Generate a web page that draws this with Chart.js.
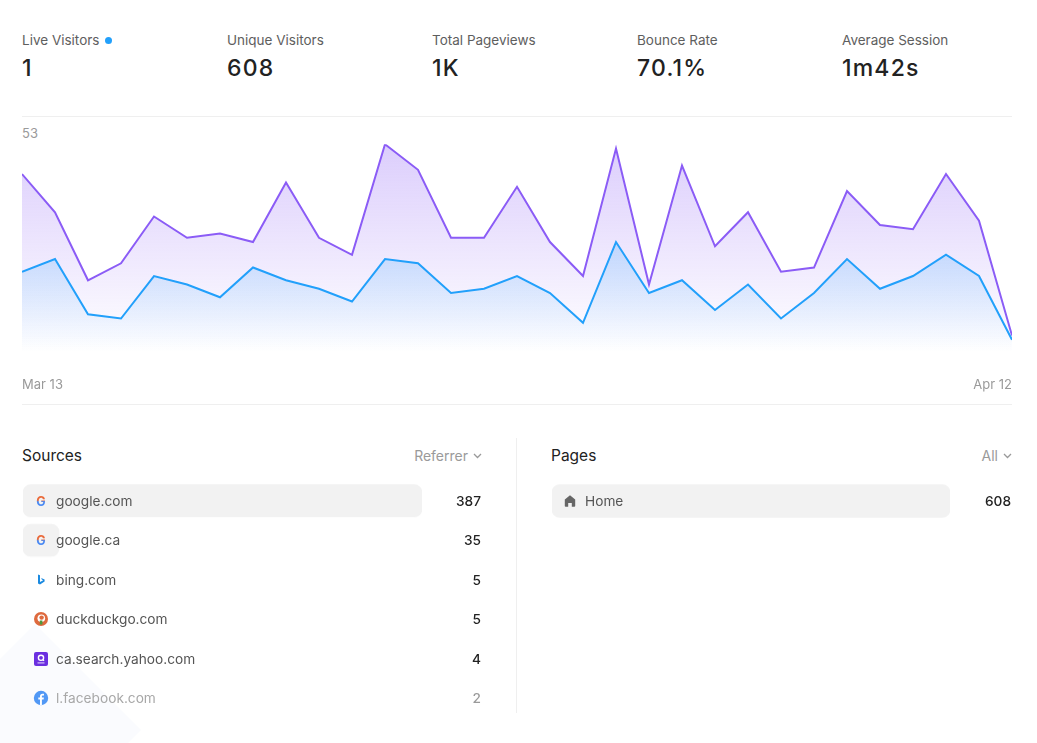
<!DOCTYPE html>
<html>
<head>
<meta charset="utf-8">
<title>Analytics</title>
<script src="https://cdn.jsdelivr.net/npm/chart.js@4.4.1/dist/chart.umd.min.js"></script>
<style>
  html, body { margin: 0; padding: 0; background: #fff; }
  body { width: 1037px; height: 743px; position: relative; overflow: hidden; font-family: Inter, 'Noto Sans', sans-serif; color: #222; }
  .abs { position: absolute; }
  .stat { position: absolute; top: 32px; width: 205px; }
  .stat .label { font-size: 13.5px; line-height: 17px; color: #5e5e5e; display: flex; align-items: center; }
  .stat .value { font-size: 23px; line-height: 28px; font-weight: 500; color: #222; margin-top: 5px; letter-spacing: 1.2px; }
  .live-dot { width: 7px; height: 7px; border-radius: 50%; background: #22a0fb; margin-left: 6px; }
  .hline { position: absolute; left: 22px; width: 990px; height: 1px; background: #efefef; }
  .vline { position: absolute; left: 516px; top: 438px; width: 1px; height: 275px; background: #efefef; }
  .maxlabel { left: 22px; top: 125px; font-size: 13px; line-height: 16px; color: #9a9a9a; }
  .panel-title { font-size: 15.5px; line-height: 20px; color: #222; top: 446px; }
  .panel-filter { font-size: 14px; line-height: 18px; color: #9a9a9a; top: 447px; display: flex; align-items: center; }
  .panel-filter svg { margin-left: 5px; }
  .rows { position: absolute; top: 481.3px; pointer-events: none; }
  .row { height: 39.4px; display: flex; align-items: center; font-size: 13.7px; }
  .row .icon { width: 16px; height: 16px; margin-left: 10px; margin-right: 7px; display: flex; }
  .row .name { color: #555; flex: 1; }
  .row .num { color: #222; font-weight: 500; text-align: right; }
  .row.faded .name { color: #a8a8a8; }
  .row.faded .num { color: #9a9a9a; }
  .row.faded .icon { opacity: 0.75; }
  .deco { left: -40px; top: 655px; width: 150px; height: 150px; transform: rotate(45deg); background: #fafbfe; }
</style>
</head>
<body>
<div class="abs deco"></div>

<div id="stats"></div>
<div class="hline" style="top:116px"></div>

<div class="abs maxlabel" id="maxLabel"></div>
<canvas id="trafficChart" class="abs" style="left:22px;top:124px;width:990px;height:270px"></canvas>

<div class="hline" style="top:404px"></div>
<div class="vline"></div>

<div class="abs panel-title" style="left:22px">Sources</div>
<div class="abs panel-filter" style="right:555px">Referrer <svg width="9" height="6" viewBox="0 0 9 6"><polyline points="1,1 4.5,4.5 8,1" fill="none" stroke="#9a9a9a" stroke-width="1.3"/></svg></div>
<div class="abs panel-title" style="left:551px">Pages</div>
<div class="abs panel-filter" style="right:25px">All <svg width="9" height="6" viewBox="0 0 9 6"><polyline points="1,1 4.5,4.5 8,1" fill="none" stroke="#9a9a9a" stroke-width="1.3"/></svg></div>

<canvas id="sourcesChart" class="abs" style="left:23px;top:481.3px;width:399px;height:236.4px"></canvas>
<div class="rows" id="sourceRows" style="left:23px;width:458px"></div>

<canvas id="pagesChart" class="abs" style="left:552px;top:481.3px;width:398px;height:39.4px"></canvas>
<div class="rows" id="pageRows" style="left:552px;width:459px"></div>

<script>
// summary numbers
const statLabels = ['Live Visitors', 'Unique Visitors', 'Total Pageviews', 'Bounce Rate', 'Average Session'];
const statValues = ['1', '608', '1K', '70.1%', '1m42s'];

// daily traffic, Mar 13 - Apr 12
const days = [
  'Mar 13', 'Mar 14', 'Mar 15', 'Mar 16', 'Mar 17', 'Mar 18', 'Mar 19', 'Mar 20',
  'Mar 21', 'Mar 22', 'Mar 23', 'Mar 24', 'Mar 25', 'Mar 26', 'Mar 27', 'Mar 28',
  'Mar 29', 'Mar 30', 'Mar 31', 'Apr 1', 'Apr 2', 'Apr 3', 'Apr 4', 'Apr 5',
  'Apr 6', 'Apr 7', 'Apr 8', 'Apr 9', 'Apr 10', 'Apr 11', 'Apr 12'
];
const visitors = [23, 26, 13, 12, 22, 20, 17, 24, 21, 19, 16, 26, 25, 18, 19, 22,
  18, 11, 30, 18, 21, 14, 20, 12, 18, 26, 19, 22, 27, 22, 7];
const pageviews = [46, 37, 21, 25, 36, 31, 32, 30, 44, 31, 27, 53, 47, 31, 31, 43,
  30, 22, 52, 20, 48, 29, 37, 23, 24, 42, 34, 33, 46, 35, 8];

// top lists
const sourceNames = ['google.com', 'google.ca', 'bing.com', 'duckduckgo.com', 'ca.search.yahoo.com', 'l.facebook.com'];
const sourceCounts = [387, 35, 5, 5, 4, 2];
const pageNames = ['Home'];
const pageCounts = [608];

const icons = {
  'google.com': '<svg width="16" height="16" viewBox="0 0 16 16"><defs><linearGradient id="gg" x1="0" y1="0" x2="0" y2="1"><stop offset="0.45" stop-color="#ea6a3a"/><stop offset="0.55" stop-color="#4a8af4"/></linearGradient></defs><text x="8" y="12.5" text-anchor="middle" font-size="12.5" font-weight="700" font-family="Inter, sans-serif" fill="url(#gg)">G</text></svg>',
  'google.ca': '<svg width="16" height="16" viewBox="0 0 16 16"><text x="8" y="12.5" text-anchor="middle" font-size="12.5" font-weight="700" font-family="Inter, sans-serif" fill="url(#gg)">G</text></svg>',
  'bing.com': '<svg width="16" height="16" viewBox="0 0 16 16"><path d="M5 2.5 L7 3.2 L7 10 L10.2 8.2 L8.8 7.6 L8.2 6 L11.6 7.4 L11.6 9.6 L7 12.6 L5 11.4 Z" fill="#1b8ae0"/></svg>',
  'duckduckgo.com': '<svg width="16" height="16" viewBox="0 0 16 16"><circle cx="8" cy="8" r="7" fill="#de6a3e"/><circle cx="8.3" cy="7.3" r="3.8" fill="#fff"/><circle cx="8.6" cy="6.6" r="2.2" fill="#de6a3e"/><rect x="6.8" y="9.5" width="2.6" height="4" fill="#4c9a3c"/></svg>',
  'ca.search.yahoo.com': '<svg width="16" height="16" viewBox="0 0 16 16"><rect x="1" y="1" width="14" height="14" rx="2" fill="#6b2fe0"/><circle cx="8" cy="6.8" r="2.6" fill="none" stroke="#fff" stroke-width="1.4"/><line x1="9.8" y1="8.6" x2="11" y2="9.8" stroke="#fff" stroke-width="1.4"/><rect x="4.5" y="11.3" width="7" height="1.2" fill="#fff" opacity="0.7"/></svg>',
  'l.facebook.com': '<svg width="16" height="16" viewBox="0 0 16 16"><circle cx="8" cy="8" r="7.2" fill="#1877f2"/><path d="M8.9 15.1 V9.6 H10.6 L10.9 7.6 H8.9 V6.5 C8.9 5.9 9.2 5.5 10 5.5 H11 V3.8 C10.6 3.7 10 3.7 9.5 3.7 C7.9 3.7 7 4.6 7 6.3 V7.6 H5.3 V9.6 H7 V15.1 Z" fill="#fff"/></svg>',
  'Home': '<svg width="16" height="16" viewBox="0 0 16 16"><path d="M8 2.2 L13.2 6.6 V13 C13.2 13.5 12.9 13.8 12.4 13.8 H9.8 V10 H6.2 V13.8 H3.6 C3.1 13.8 2.8 13.5 2.8 13 V6.6 Z" fill="#666"/></svg>'
};

// header stats
const statsBox = document.getElementById('stats');
statLabels.forEach((label, i) => {
  const div = document.createElement('div');
  div.className = 'stat';
  div.style.left = 22 + i * 205 + 'px';
  const dot = i === 0 ? '<span class="live-dot"></span>' : '';
  div.innerHTML = `<div class="label">${label}${dot}</div><div class="value">${statValues[i]}</div>`;
  statsBox.appendChild(div);
});

const peak = Math.max(...pageviews);
document.getElementById('maxLabel').textContent = peak;

function fadeFill(rgb, topAlpha) {
  return ctx => {
    const area = ctx.chart.chartArea;
    if (!area) return `rgba(${rgb},0)`;
    const g = ctx.chart.ctx.createLinearGradient(0, area.top, 0, area.bottom);
    g.addColorStop(0, `rgba(${rgb},${topAlpha})`);
    g.addColorStop(0.92, `rgba(${rgb},0)`);
    return g;
  };
}

// traffic line chart
new Chart(document.getElementById('trafficChart'), {
  type: 'line',
  data: {
    labels: days,
    datasets: [
      {
        label: 'Visitors',
        data: visitors,
        borderColor: '#22a0fb',
        backgroundColor: fadeFill('34,160,251', 0.42),
        borderWidth: 2,
        fill: 'origin',
      },
      {
        label: 'Pageviews',
        data: pageviews,
        borderColor: '#8b5cf6',
        backgroundColor: fadeFill('139,92,246', 0.3),
        borderWidth: 2,
        fill: 'origin',
      },
    ],
  },
  options: {
    responsive: false,
    animation: false,
    layout: { padding: { top: 20.3, left: 0, right: 0, bottom: 0 } },
    elements: { point: { radius: 0 }, line: { tension: 0, borderJoinStyle: 'miter' } },
    plugins: { legend: { display: false }, tooltip: { enabled: false } },
    scales: {
      x: {
        offset: false,
        grid: { display: false, drawTicks: false },
        border: { display: false },
        afterFit: scale => {
          // keep the plot edge to edge, labels sit inside
          scale.height = 24.5;
          scale.paddingLeft = 0;
          scale.paddingRight = 0;
        },
        ticks: {
          autoSkip: false,
          maxRotation: 0,
          align: 'inner',
          padding: 8,
          color: '#9a9a9a',
          font: { family: 'Inter', size: 13 },
          callback: (val, i) => (i === 0 || i === days.length - 1 ? days[i] : ''),
        },
      },
      y: { display: false, min: 0, max: peak },
    },
  },
});

// horizontal bars behind the top lists
function listBars(canvasId, names, counts) {
  const top = Math.max(...counts);
  const width = document.getElementById(canvasId).clientWidth;
  return new Chart(document.getElementById(canvasId), {
    type: 'bar',
    data: {
      labels: names,
      datasets: [{
        data: counts,
        // tiny bars are not shown
        backgroundColor: ctx => (ctx.raw / top) * width < 16 ? 'rgba(0,0,0,0)' : '#f2f2f2',
        borderRadius: 8,
        borderSkipped: false,
        barThickness: 32,
      }],
    },
    options: {
      indexAxis: 'y',
      responsive: false,
      animation: false,
      layout: { padding: 0 },
      plugins: { legend: { display: false }, tooltip: { enabled: false } },
      scales: {
        x: { display: false, min: 0, max: top },
        y: { display: false },
      },
    },
  });
}
listBars('sourcesChart', sourceNames, sourceCounts);
listBars('pagesChart', pageNames, pageCounts);

function listRows(boxId, names, counts) {
  const box = document.getElementById(boxId);
  names.forEach((name, i) => {
    const row = document.createElement('div');
    row.className = 'row' + (i === 5 ? ' faded' : '');
    row.innerHTML = `<span class="icon">${icons[name]}</span><span class="name">${name}</span><span class="num">${counts[i]}</span>`;
    box.appendChild(row);
  });
}
listRows('sourceRows', sourceNames, sourceCounts);
listRows('pageRows', pageNames, pageCounts);
</script>
</body>
</html>
